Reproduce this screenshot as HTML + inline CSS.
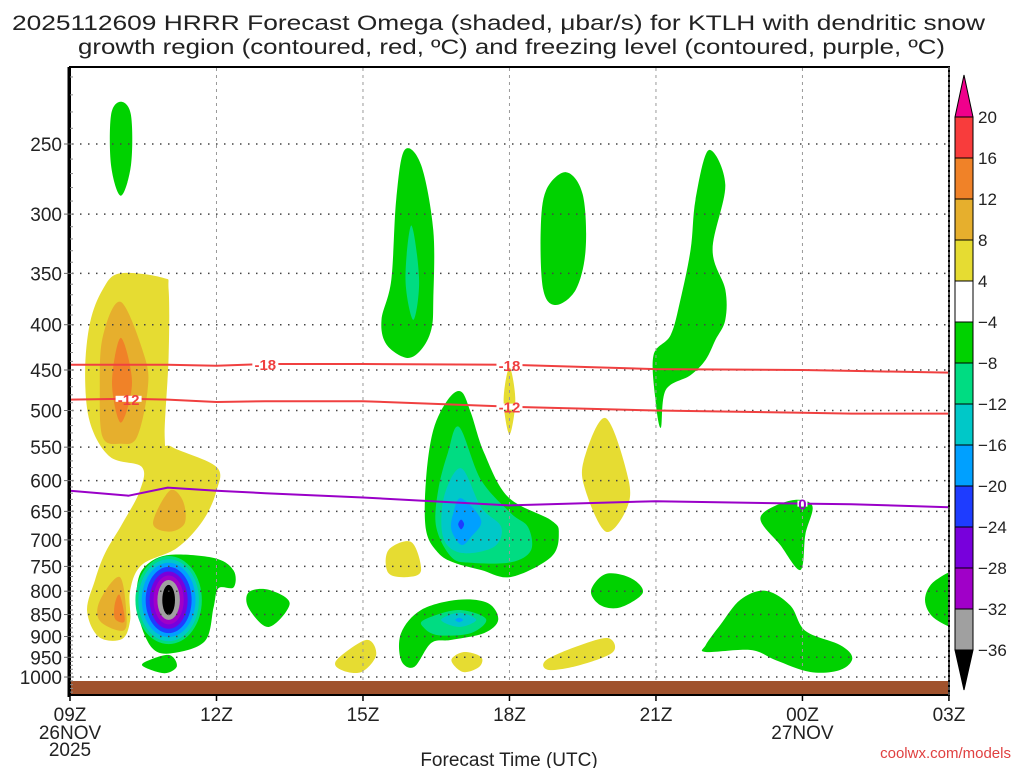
<!DOCTYPE html>
<html><head><meta charset="utf-8"><title>HRRR Omega KTLH</title>
<style>
html,body{margin:0;padding:0;background:#fff;}
svg{display:block;font-family:"Liberation Sans","DejaVu Sans",sans-serif;}
</style></head>
<body>
<svg id="chart" width="1024" height="768" viewBox="0 0 1024 768" xmlns="http://www.w3.org/2000/svg">
<rect x="0" y="0" width="1024" height="768" fill="#fff"/>
<g fill="#222" font-size="21">
<text x="12" y="30" textLength="973" lengthAdjust="spacingAndGlyphs">2025112609 HRRR Forecast Omega (shaded, μbar/s) for KTLH with dendritic snow</text>
<text x="78" y="54" textLength="867" lengthAdjust="spacingAndGlyphs">growth region (contoured, red, ºC) and freezing level (contoured, purple, ºC)</text>
</g>
<defs><clipPath id="plotclip"><rect x="70" y="67" width="879" height="628"/></clipPath></defs>
<g id="shading" clip-path="url(#plotclip)"></g>
<g id="grid"></g>
<g id="lines" clip-path="url(#plotclip)"></g>
<g id="axes"></g>
<g id="cbar"></g>
<text x="509" y="766" text-anchor="middle" font-size="19" fill="#222">Forecast Time (UTC)</text>
<text x="1011" y="758" text-anchor="end" font-size="15" fill="#e04040">coolwx.com/models</text>
</svg>
<script>
// ---- data ----
const pressureTicks=[250,300,350,400,450,500,550,600,650,700,750,800,850,900,950,1000];
const timeTickHours=[0,3,6,9,12,15,18];
const timeTickLabels=["09Z","12Z","15Z","18Z","21Z","00Z","03Z"];
const cbarLevels=["20","16","12","8","4","−4","−8","−12","−16","−20","−24","−28","−32","−36"];
const cbarColors=["#f83c3c","#f08228","#e6af2d","#e6dc32","#ffffff","#00d200","#00dc82","#00c8c8","#00a0ff","#1e3cff","#7800dc","#a000c8","#a0a0a0"];
const C={y:"#e6dc32",oy:"#e6af2d",o:"#f08228",g:"#00d200",t:"#00dc82",c:"#00c8c8",lb:"#00a0ff",b:"#1e3cff",pu:"#7800dc",m:"#a000c8",gr:"#a0a0a0",k:"#000000"};
// blobs: [colorKey, [[hour, hPa],...]]
const blobs=[
["g",[[1.04,224],[1.25,232],[1.25,264],[1.04,286],[0.84,264],[0.84,232]]],
["y",[[1.02,350],[1.90,354],[2.02,365],[2.02,435],[1.94,536],[2.10,550],[3.0,579],[3.0,616],[2.72,666],[2.19,715],[1.47,747],[1.23,799],[1.23,864],[1.06,906],[0.59,901],[0.35,842],[0.51,778],[0.72,724],[1.08,670],[1.43,616],[1.47,579],[0.82,564],[0.41,516],[0.31,453],[0.41,398],[0.67,365]]],
["oy",[[1.04,377],[1.53,435],[1.59,474],[1.37,536],[1.04,545],[0.67,536],[0.61,474],[0.67,413]]],
["o",[[1.04,414],[1.27,465],[1.04,516],[0.86,465]]],
["oy",[[2.04,616],[2.31,632],[2.35,670],[2.04,685],[1.70,670]]],
["oy",[[1.02,771],[1.16,857],[1.06,887],[0.61,864],[0.61,820]]],
["o",[[1.02,808],[1.12,864],[0.92,859],[0.92,826]]],
["g",[[2.02,728],[2.96,734],[3.35,758],[3.35,792],[3.04,794],[2.94,834],[2.76,911],[2.08,940],[1.68,927],[1.41,857],[1.37,792],[1.53,751]]],
["g",[[1.53,962],[2.02,944],[2.19,972],[1.94,990],[1.53,975]]],
["g",[[3.66,802],[4.07,797],[4.50,826],[4.07,878],[3.66,836]]],
["g",[[6.85,254],[7.19,264],[7.44,313],[7.44,375],[7.40,405],[7.19,427],[6.89,436],[6.48,421],[6.38,395],[6.58,356],[6.68,289]]],
["t",[[6.99,309],[7.15,356],[7.03,395],[6.87,356]]],
["g",[[8.01,476],[8.21,503],[8.48,558],[8.97,626],[9.85,665],[10.01,688],[9.85,732],[9.03,771],[8.42,757],[7.87,743],[7.54,724],[7.29,682],[7.29,599],[7.44,526],[7.74,486]]],
["t",[[7.97,522],[8.42,599],[9.03,653],[9.38,677],[9.44,719],[9.03,742],[8.21,743],[7.81,732],[7.50,677],[7.54,615],[7.74,558]]],
["c",[[8.01,581],[8.42,643],[8.83,677],[8.68,713],[8.01,724],[7.64,695],[7.66,626]]],
["lb",[[8.01,628],[8.42,665],[8.21,695],[8.01,709],[7.81,682],[7.85,653]]],
["b",[[8.01,664],[8.07,672],[8.01,681],[7.95,672]]],
["g",[[6.78,892],[7.19,840],[7.95,818],[8.56,825],[8.77,862],[8.48,892],[7.81,908],[7.40,915],[7.05,974],[6.78,957]]],
["t",[[7.25,862],[7.95,840],[8.52,860],[8.21,892],[7.54,897],[7.25,880]]],
["c",[[7.60,862],[7.97,846],[8.32,862],[7.97,878]]],
["lb",[[7.97,857],[8.05,862],[7.97,867],[7.89,862]]],
["y",[[6.52,719],[6.99,704],[7.19,757],[6.93,771],[6.52,763]]],
["y",[[9.0,447],[9.12,487],[9.0,532],[8.88,487]]],
["y",[[7.81,957],[8.07,937],[8.42,949],[8.38,974],[8.05,987]]],
["y",[[5.46,957],[6.07,908],[6.27,944],[5.97,987],[5.56,982]]],
["y",[[9.75,957],[10.46,920],[11.03,904],[11.12,937],[10.46,969],[9.81,982]]],
["y",[[10.97,510],[11.44,599],[11.38,649],[10.97,685],[10.56,616],[10.52,570]]],
["g",[[10.16,269],[10.50,285],[10.56,329],[10.36,365],[9.95,380],[9.69,365],[9.64,313],[9.75,282]]],
["g",[[10.67,799],[10.97,765],[11.48,773],[11.73,803],[11.28,834],[10.87,830]]],
["g",[[13.08,254],[13.42,278],[13.16,329],[13.42,365],[13.42,395],[13.22,416],[13.02,438],[12.71,456],[12.2,474],[12.1,523],[11.99,487],[11.95,433],[12.3,411],[12.5,375],[12.71,329],[12.81,289]]],
["g",[[14.14,660],[14.75,632],[15.2,640],[15.06,690],[14.96,757],[14.55,710]]],
["g",[[13.02,920],[13.32,873],[13.73,818],[14.24,799],[14.75,830],[15.06,887],[15.77,920],[16.02,952],[15.77,982],[15.16,987],[14.45,957],[13.94,932],[13.02,937]]],
["g",[[18.3,761],[17.72,778],[17.51,818],[17.72,860],[18.3,875]]]
];
// vortex rings near 11Z: [colorKey, centerHour, halfWidthHours, topHPa, bottomHPa]
const rings=[
["t",2.02,0.68,730,918],["c",2.02,0.62,736,911],["lb",2.02,0.55,743,901],["b",2.02,0.47,751,892],
["pu",2.02,0.39,760,882],["m",2.02,0.31,768,872],["gr",2.02,0.23,777,862],["k",2.02,0.13,787,851]
];
const lineHours=[0,1.2,2,3,4,6,9,12,15,16,18];
const minus18=[444,444,444,445,443,443,444,449,450,451,453];
const minus12=[486,485,486,489,488,488,495,500,503,504,504];
const freezing=[616,624,611,616,620,627,640,633,637,638,643];
// ---- scales ----
const X0=70,PXH=48.83;
const xs=h=>X0+h*PXH;
const ys=p=>144+Math.log(p/250)*384.5;
const NS="http://www.w3.org/2000/svg";
function mk(tag,attrs,parent){const e=document.createElementNS(NS,tag);for(const k in attrs)e.setAttribute(k,attrs[k]);parent.appendChild(e);return e;}
function smooth(pts){const n=pts.length;let d=`M${pts[0][0].toFixed(1)},${pts[0][1].toFixed(1)}`;
for(let i=0;i<n;i++){const p0=pts[(i-1+n)%n],p1=pts[i],p2=pts[(i+1)%n],p3=pts[(i+2)%n];
const c1=[p1[0]+(p2[0]-p0[0])/6,p1[1]+(p2[1]-p0[1])/6],c2=[p2[0]-(p3[0]-p1[0])/6,p2[1]-(p3[1]-p1[1])/6];
d+=`C${c1[0].toFixed(1)},${c1[1].toFixed(1)} ${c2[0].toFixed(1)},${c2[1].toFixed(1)} ${p2[0].toFixed(1)},${p2[1].toFixed(1)}`;}
return d+"Z";}
const sh=document.getElementById('shading');
blobs.forEach((b,i)=>{const pts=b[1].map(q=>[xs(q[0]),ys(q[1])]);
const el=mk('path',{d:smooth(pts),fill:C[b[0]]},sh);

});
rings.forEach((r,i)=>{const y1=ys(r[3]),y2=ys(r[4]);
const el=mk('ellipse',{cx:xs(r[1]),cy:(y1+y2)/2,rx:r[2]*PXH,ry:(y2-y1)/2,fill:C[r[0]]},sh);

});
const ground=mk('rect',{x:70,y:681,width:879,height:14,fill:"#a0522d"},sh);


// grid
const gr=document.getElementById('grid');
pressureTicks.forEach(p=>{const el=mk('line',{x1:72,x2:949,y1:ys(p),y2:ys(p),stroke:"#444","stroke-width":1.5,"stroke-dasharray":"1.5,6.5"},gr);

});
timeTickHours.slice(1,-1).forEach(h=>{const el=mk('line',{x1:xs(h),x2:xs(h),y1:68,y2:681,stroke:"#999","stroke-width":1,"stroke-dasharray":"3,4"},gr);

});
// contour lines
const ln=document.getElementById('lines');
function poly(arr,color,name){const pts=lineHours.map((h,i)=>xs(h).toFixed(1)+","+ys(arr[i]).toFixed(1)).join(" ");
const el=mk('polyline',{points:pts,fill:"none",stroke:color,"stroke-width":2,"stroke-linejoin":"round"},ln);

}
poly(minus18,"#f04040","minus18-contour");
poly(minus12,"#f04040","minus12-contour");
poly(freezing,"#9a00c8","freezing-level-contour");
function lab(t,h,arr,color,name){const p=arr[lineHours.indexOf(h)];
const yy=ys(p);const w=t.length*8+2;
mk('rect',{x:xs(h)-w/2,y:yy-3,width:w,height:6,fill:"#fff"},ln);
const el=mk('text',{x:xs(h),y:yy+6,"text-anchor":"middle","font-size":15,"font-weight":"bold",fill:color},ln);el.textContent=t;

}
lab("-18",4,minus18,"#f04040","minus18-label");
lab("-18",9,minus18,"#f04040","minus18-label-2");
lab("-12",1.2,minus12,"#f04040","minus12-label");
lab("-12",9,minus12,"#f04040","minus12-label-2");
lab("0",15,freezing,"#9a00c8","freezing-label");
// axes
const ax=document.getElementById('axes');
mk('rect',{x:70,y:67,width:879,height:628,fill:"none",stroke:"#000","stroke-width":2},ax);
mk('line',{x1:69,x2:69,y1:67,y2:697,stroke:"#000","stroke-width":3},ax);
mk('line',{x1:949,x2:949,y1:67,y2:695,stroke:"#666","stroke-width":1.5,"stroke-dasharray":"3,2"},ax);
for(let p=210;p<=1040;p+=10){mk('line',{x1:70,x2:73,y1:ys(p),y2:ys(p),stroke:"#888","stroke-width":1},ax);}
pressureTicks.forEach(p=>{const el=mk('text',{x:62,y:ys(p)+7,"text-anchor":"end","font-size":19,fill:"#222"},ax);el.textContent=p;


mk('line',{x1:64,x2:70,y1:ys(p),y2:ys(p),stroke:"#666","stroke-width":1},ax);});
timeTickHours.forEach((h,i)=>{mk('line',{x1:xs(h),x2:xs(h),y1:695,y2:701,stroke:"#000","stroke-width":1.5},ax);
const el=mk('text',{x:xs(h),y:721,"text-anchor":"middle","font-size":19,fill:"#222"},ax);el.textContent=timeTickLabels[i];

});
[["26NOV",0,739],["2025",0,756],["27NOV",15,739]].forEach(d=>{const el=mk('text',{x:xs(d[1]),y:d[2],"text-anchor":"middle","font-size":19,fill:"#222"},ax);el.textContent=d[0];

});
// colorbar
const cb=document.getElementById('cbar');
const CBX=955,CBW=18,CBT=117,CBS=41;
mk('polygon',{points:`${CBX},${CBT} ${CBX+CBW},${CBT} ${CBX+CBW/2},75`,fill:"#f0008c",stroke:"#000","stroke-width":1},cb);
cbarColors.forEach((c,i)=>{const el=mk('rect',{x:CBX,y:CBT+i*CBS,width:CBW,height:CBS,fill:c,stroke:"#000","stroke-width":1},cb);

});
const bot=CBT+cbarColors.length*CBS;
mk('polygon',{points:`${CBX},${bot} ${CBX+CBW},${bot} ${CBX+CBW/2},690`,fill:"#000",stroke:"#000","stroke-width":1},cb);
cbarLevels.forEach((t,i)=>{const el=mk('text',{x:978,y:CBT+i*CBS+6,"font-size":17,fill:"#222"},cb);el.textContent=t;

});
</script>
</body></html>
